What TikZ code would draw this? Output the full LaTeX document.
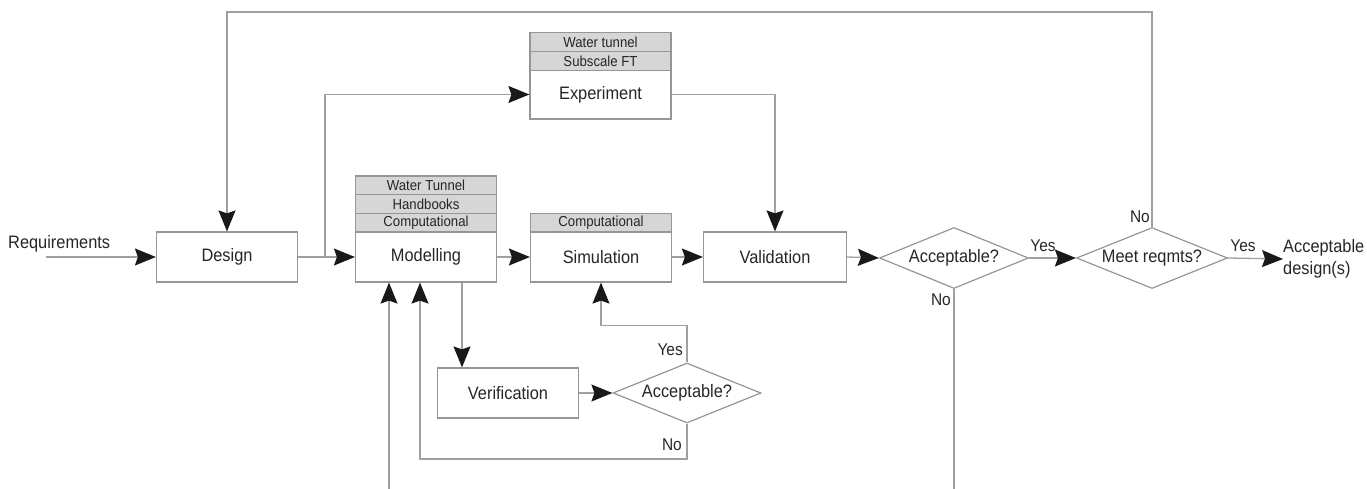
\documentclass[tikz,border=0pt]{standalone}
\usepackage{fontspec}
\setmainfont{Liberation Sans}[FakeStretch=0.91]
\usetikzlibrary{arrows.meta,shapes.geometric,calc}
\definecolor{lncol}{RGB}{160,160,160}
\definecolor{boxcol}{RGB}{150,150,150}
\definecolor{hdrfill}{RGB}{214,214,214}
\definecolor{txtcol}{RGB}{38,38,38}
\tikzset{
  body/.style={draw=boxcol, line width=1.2pt, fill=white, minimum width=141pt, minimum height=50pt, inner sep=0pt, text=txtcol, font=\fontsize{18}{21.6}\selectfont},
  hdr/.style={draw=boxcol, line width=1.2pt, fill=hdrfill, minimum width=141pt, minimum height=18.7pt, inner sep=0pt, text=txtcol, font=\fontsize{14.5}{16}\selectfont},
  dia/.style={diamond, draw=boxcol, line width=1.2pt, fill=white, aspect=2.45, minimum width=149pt, minimum height=61pt, inner sep=0pt, text=txtcol, font=\fontsize{18}{21.6}\selectfont},
  lbl/.style={inner sep=0pt, text=txtcol, font=\fontsize{17}{20}\selectfont},
  conn/.style={draw=lncol, line width=1.3pt},
  arr/.style={conn, -{Stealth[length=21pt,width=17pt,inset=3pt,color=black!90]}},
}
\begin{document}
\begin{tikzpicture}[x=1pt,y=-1pt]
\useasboundingbox (0,0) rectangle (1367,489);
% boxes
\node[body] (design) at (227,257) {Design};
\node[body] (model) at (426,257) {Modelling};
\node[hdr] (mh3) at (426,222.7) {Computational};
\node[hdr] (mh2) at (426,204) {Handbooks};
\node[hdr] (mh1) at (426,185.3) {Water Tunnel};
\node[body, minimum height=49pt] (exp) at (600.5,94.5) {Experiment};
\node[hdr] (eh2) at (600.5,61) {Subscale FT};
\node[hdr, minimum height=19pt] (eh1) at (600.5,42) {Water tunnel};
\node[body] (sim) at (601,257) {Simulation};
\node[hdr] (sh1) at (601,222.7) {Computational};
\node[body, minimum width=143pt] (valid) at (775,257) {Validation};
\node[body] (verif) at (508,393) {Verification};
% diamonds
\node[dia] (acc1) at (954,258) {Acceptable?};
\node[dia, minimum width=151pt] (meet) at (1152,258) {Meet reqmts?};
\node[dia, minimum width=148pt, minimum height=60pt] (acc2) at (687,393) {Acceptable?};
% texts
\node[anchor=west, inner sep=0pt, text=txtcol, font=\fontsize{18}{21.6}\selectfont] (req) at (8,244) {Requirements};
\node[anchor=west, inner sep=0pt, text=txtcol, align=left, font=\fontsize{18}{22}\selectfont] (out) at (1283,259) {Acceptable\\design(s)};
% coordinates
\coordinate (reqstart) at (46,257);
\coordinate (br) at (325,257);
\coordinate (top) at (1152,12);
\coordinate (bot1) at (389,489);
\coordinate (bot2) at (954,489);
\coordinate (noc) at (420,459);
% connectors
\draw[arr] (reqstart) -- (design.west);
\draw[arr] (design.east) -- (model.west);
\draw[arr] (br) |- (exp.west);
\draw[arr] (exp.east) -| (valid.north);
\draw[arr] (model.east) -- (sim.west);
\draw[arr] (sim.east) -- (valid.west);
\draw[arr] (valid.east) -- (acc1.west);
\draw[arr] (acc1.east) -- (meet.west);
\draw[arr] (meet.east) -- (out.west);
\draw[arr] (meet.north) -- (top) -| (design.north);
\draw[conn] (acc1.south) -- (bot2);
\draw[arr] (bot1) -- (bot1 |- model.south);
\draw[arr] ([xshift=36pt]model.south) -- ([xshift=36pt]model.south |- verif.north);
\draw[arr] (verif.east) -- (acc2.west);
\draw[arr] (acc2.north) -- ++(0,-37) -| (sim.south);
\draw[arr] (acc2.south) |- (noc) -- (noc |- model.south);
% labels
\node[lbl] (y1) at (1043,246) {Yes};
\node[lbl] (y2) at (1243,246) {Yes};
\node[lbl, anchor=east] (n1) at (1150,217) {No};
\node[lbl, anchor=east] (n2) at (951,300) {No};
\node[lbl, anchor=east] (y3) at (683,350) {Yes};
\node[lbl, anchor=east] (n3) at (682,445) {No};
\end{tikzpicture}
\end{document}
